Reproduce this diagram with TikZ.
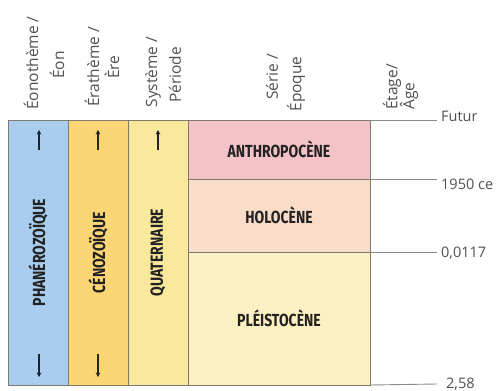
\documentclass[tikz,border=0pt]{standalone}
\usepackage{fontspec}
\setmainfont{Open Sans}
\newfontfamily\condfont[FakeStretch=0.8]{Fira Sans}
\usetikzlibrary{arrows.meta}
\definecolor{cblue}{HTML}{A9CDEF}
\definecolor{corange}{HTML}{FCD574}
\definecolor{cyellow}{HTML}{FAE99C}
\definecolor{cpink}{HTML}{F4C3C7}
\definecolor{cpeach}{HTML}{FADDC8}
\definecolor{cpale}{HTML}{FDF0C2}
\definecolor{cborder}{HTML}{7E7B6E}
\definecolor{chead}{HTML}{505050}
\definecolor{clabel}{HTML}{222222}
\definecolor{cleader}{HTML}{8C8C8C}
\tikzset{
  cellbox/.style={draw=cborder, line width=1pt, inner sep=0pt, outer sep=0pt, anchor=north west},
  headtxt/.style={rotate=90, inner sep=0pt, text=chead, font=\fontsize{15.5}{18}\selectfont},
  celltxt/.style={inner sep=0pt, text=clabel, font=\condfont\bfseries\fontsize{17.5}{20}\selectfont},
  vcelltxt/.style={celltxt, rotate=90},
  agetxt/.style={anchor=west, inner sep=0pt, text=chead, font=\fontsize{14.5}{18}\selectfont},
  leader/.style={draw=cleader, line width=0.9pt},
  arr/.style={draw=clabel, line width=1.3pt, -{Stealth[length=4.5pt,width=4.5pt]}}
}
\begin{document}
\begin{tikzpicture}[x=1pt,y=-1pt]
\useasboundingbox (0,0) rectangle (496,391);
\fill[white] (0,0) rectangle (496,391);
% columns
\node[cellbox, fill=cblue, minimum width=60pt, minimum height=265pt] (eon) at (8,120) {};
\node[cellbox, fill=corange, minimum width=60pt, minimum height=265pt] (ere) at (68,120) {};
\node[cellbox, fill=cyellow, minimum width=60pt, minimum height=265pt] (periode) at (128,120) {};
\node[cellbox, fill=cpink, minimum width=182pt, minimum height=59pt] (anthro) at (188,120) {};
\node[cellbox, fill=cpeach, minimum width=182pt, minimum height=73pt] (holo) at (188,179) {};
\node[cellbox, fill=cpale, minimum width=182pt, minimum height=133pt] (pleisto) at (188,252) {};
% cell labels
\node[vcelltxt] (phaner) at (eon.center) {PHANÉROZOÏQUE};
\node[vcelltxt] (ceno) at (ere.center) {CÉNOZOÏQUE};
\node[vcelltxt] (quat) at (periode.center) {QUATERNAIRE};
\node[celltxt] (tanthro) at (anthro.center) {ANTHROPOCÈNE};
\node[celltxt] (tholo) at (holo.center) {HOLOCÈNE};
\node[celltxt] (tpleisto) at (pleisto.center) {PLÉISTOCÈNE};
% arrows
\coordinate (a1s) at (39,150); \coordinate (a1e) at (39,130);
\coordinate (a2s) at (98,150); \coordinate (a2e) at (98,130);
\coordinate (a3s) at (158,150); \coordinate (a3e) at (158,130);
\coordinate (d1s) at (39,354); \coordinate (d1e) at (39,377);
\coordinate (d2s) at (98,354); \coordinate (d2e) at (98,377);
\draw[arr] (a1s) -- (a1e);
\draw[arr] (a2s) -- (a2e);
\draw[arr] (a3s) -- (a3e);
\draw[arr] (d1s) -- (d1e);
\draw[arr] (d2s) -- (d2e);
% headers
\node[headtxt] (h1a) at (31,63) {Éonothème /};
\node[headtxt] (h1b) at (57,65) {Éon};
\node[headtxt] (h2a) at (92,67) {Érathème /};
\node[headtxt] (h2b) at (112,67) {Ère};
\node[headtxt] (h3a) at (153,72) {Système /};
\node[headtxt] (h3b) at (175,75) {Période};
\node[headtxt] (h4a) at (272,77) {Série /};
\node[headtxt] (h4b) at (296,84) {Époque};
\node[headtxt, anchor=west] (h5a) at (392,110) {Étage/};
\node[headtxt, anchor=west] (h5b) at (409,110) {Âge};
% leaders and ages
\coordinate (l1) at (437,120);
\coordinate (l2) at (437,179);
\coordinate (l3) at (437,252);
\coordinate (l4) at (437,384);
\draw[leader] (anthro.north east) -- (l1);
\draw[leader] (holo.north east) -- (l2);
\draw[leader] (pleisto.north east) -- (l3);
\draw[leader] (pleisto.south east) -- (l4);
\node[agetxt] (futur) at (441,116) {Futur};
\node[agetxt] (y1950) at (441,184) {1950 ce};
\node[agetxt] (y0117) at (441,253) {0,0117};
\node[agetxt] (y258) at (446,384) {2,58};
\end{tikzpicture}
\end{document}
